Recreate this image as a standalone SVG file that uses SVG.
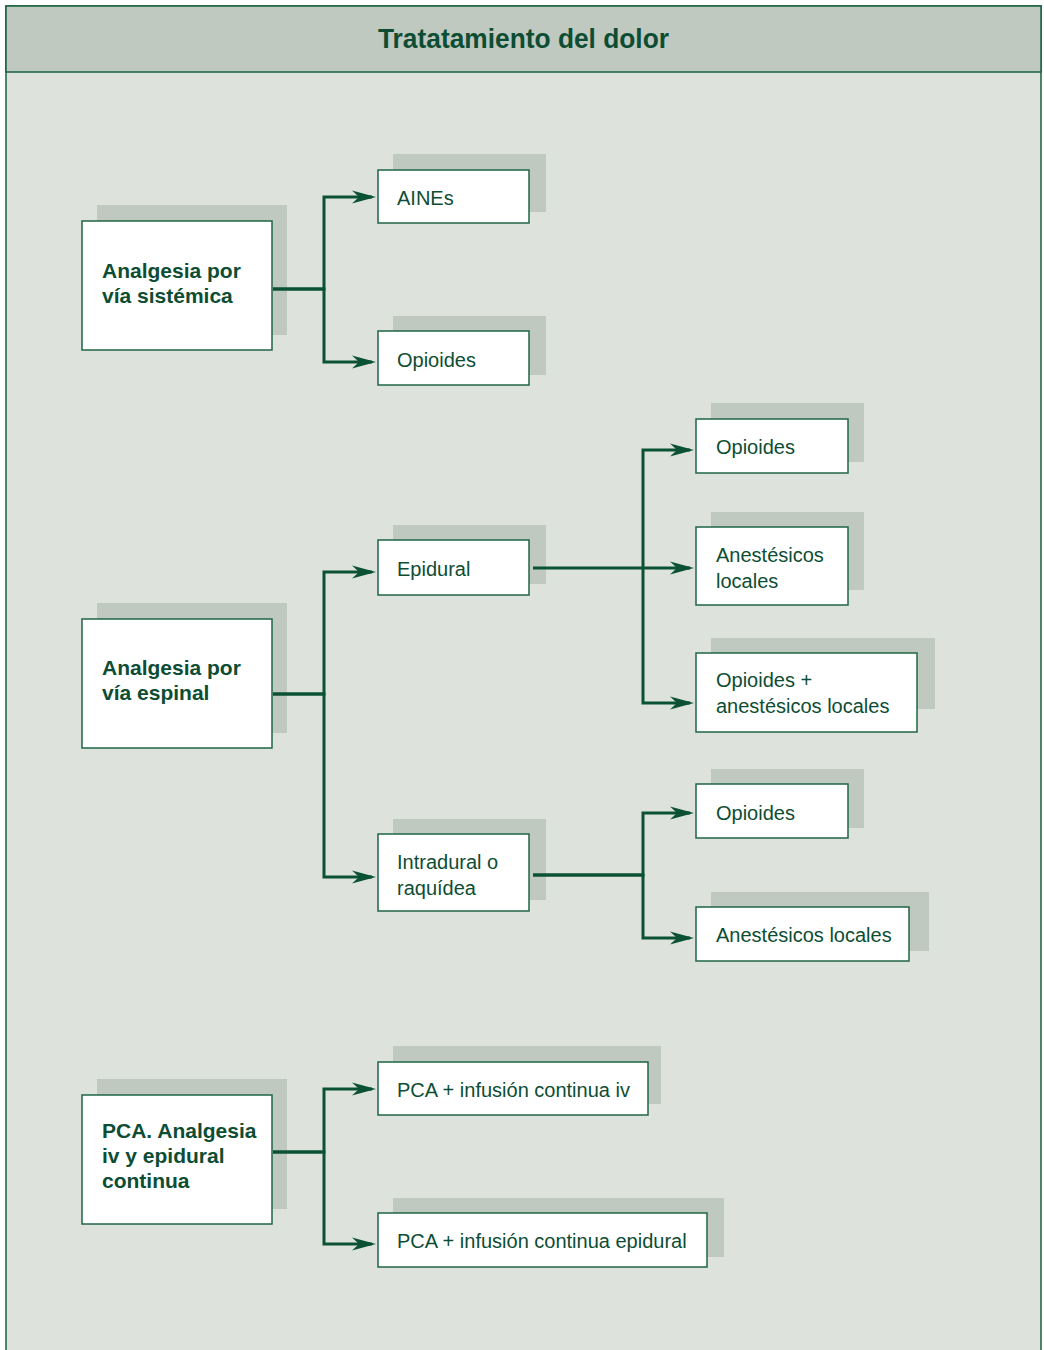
<svg xmlns="http://www.w3.org/2000/svg" width="1044" height="1350" viewBox="0 0 1044 1350">
<style>
.shadow{fill:#bfc9c0}
.box{fill:#ffffff;stroke:#1f6645;stroke-width:1.5}
.t{font-family:"Liberation Sans",Arial,sans-serif;font-size:20px;fill:#0d4d33}
.b{font-family:"Liberation Sans",Arial,sans-serif;font-size:21px;font-weight:bold;fill:#0d4d33}
.c{fill:none;stroke:#0b5235;stroke-width:3;stroke-linejoin:miter}
</style>
<defs>
<marker id="arr" markerUnits="userSpaceOnUse" markerWidth="30" markerHeight="16" viewBox="-26 -8 30 16" refX="-4" refY="0" orient="auto">
<path d="M0,0 L-24,-6.5 L-17,0 L-24,6.5 Z" fill="#0b5235"/>
</marker>
</defs>
<g id="frame">
<rect x="6" y="6" width="1035" height="1360" fill="#dde2dc" stroke="#1a6040" stroke-width="1.5"/>
<rect x="6" y="6" width="1035" height="66" fill="#bfc9c0" stroke="#1a6040" stroke-width="1.5"/>
<text x="523.5" y="48" text-anchor="middle" font-family="Liberation Sans, Arial, sans-serif" font-size="27" font-weight="bold" fill="#0d4d33" textLength="291" lengthAdjust="spacingAndGlyphs">Tratatamiento del dolor</text>
</g>
<g id="n-sistemica">
<rect class="shadow" x="97" y="205" width="190" height="130"/>
<rect class="box" x="82" y="221" width="190" height="129"/>
<text class="b" x="102" y="278">Analgesia por</text>
<text class="b" x="102" y="303">vía sistémica</text>
</g>
<g id="n-aines">
<rect class="shadow" x="393" y="154" width="153" height="58"/>
<rect class="box" x="378" y="170" width="151" height="53"/>
<text class="t" x="397" y="205">AINEs</text>
</g>
<g id="n-opioides1">
<rect class="shadow" x="393" y="316" width="153" height="59"/>
<rect class="box" x="378" y="331" width="151" height="54"/>
<text class="t" x="397" y="367">Opioides</text>
</g>
<g id="n-espinal">
<rect class="shadow" x="97" y="603" width="190" height="130"/>
<rect class="box" x="82" y="619" width="190" height="129"/>
<text class="b" x="102" y="675">Analgesia por</text>
<text class="b" x="102" y="700">vía espinal</text>
</g>
<g id="n-epidural">
<rect class="shadow" x="393" y="525" width="153" height="59"/>
<rect class="box" x="378" y="540" width="151" height="55"/>
<text class="t" x="397" y="576">Epidural</text>
</g>
<g id="n-intradural">
<rect class="shadow" x="393" y="819" width="153" height="81"/>
<rect class="box" x="378" y="834" width="151" height="77"/>
<text class="t" x="397" y="869">Intradural o</text>
<text class="t" x="397" y="895">raquídea</text>
</g>
<g id="n-opioides2">
<rect class="shadow" x="711" y="403" width="153" height="59"/>
<rect class="box" x="696" y="419" width="152" height="54"/>
<text class="t" x="716" y="454">Opioides</text>
</g>
<g id="n-anest2">
<rect class="shadow" x="711" y="512" width="153" height="78"/>
<rect class="box" x="696" y="527" width="152" height="78"/>
<text class="t" x="716" y="562">Anestésicos</text>
<text class="t" x="716" y="588">locales</text>
</g>
<g id="n-opi-anest">
<rect class="shadow" x="711" y="638" width="224" height="71"/>
<rect class="box" x="696" y="653" width="221" height="79"/>
<text class="t" x="716" y="687">Opioides +</text>
<text class="t" x="716" y="713">anestésicos locales</text>
</g>
<g id="n-opioides3">
<rect class="shadow" x="711" y="769" width="153" height="59"/>
<rect class="box" x="696" y="784" width="152" height="54"/>
<text class="t" x="716" y="820">Opioides</text>
</g>
<g id="n-anest1">
<rect class="shadow" x="711" y="892" width="218" height="59"/>
<rect class="box" x="696" y="907" width="213" height="54"/>
<text class="t" x="716" y="942">Anestésicos locales</text>
</g>
<g id="n-pca">
<rect class="shadow" x="97" y="1079" width="190" height="130"/>
<rect class="box" x="82" y="1095" width="190" height="129"/>
<text class="b" x="102" y="1138">PCA. Analgesia</text>
<text class="b" x="102" y="1163">iv y epidural</text>
<text class="b" x="102" y="1188">continua</text>
</g>
<g id="n-pca-iv">
<rect class="shadow" x="393" y="1046" width="268" height="58"/>
<rect class="box" x="378" y="1062" width="270" height="53"/>
<text class="t" x="397" y="1097">PCA + infusión continua iv</text>
</g>
<g id="n-pca-epi">
<rect class="shadow" x="393" y="1198" width="331" height="59"/>
<rect class="box" x="378" y="1213" width="329" height="54"/>
<text class="t" x="397" y="1248">PCA + infusión continua epidural</text>
</g>
<g id="connectors">
<path class="c" d="M273,289 H324 V197 H372" marker-end="url(#arr)"/>
<path class="c" d="M273,289 H324 V362 H372" marker-end="url(#arr)"/>
<path class="c" d="M273,694 H324 V572 H372" marker-end="url(#arr)"/>
<path class="c" d="M273,694 H324 V877 H372" marker-end="url(#arr)"/>
<path class="c" d="M533,568 H690" marker-end="url(#arr)"/>
<path class="c" d="M643,568 V450 H690" marker-end="url(#arr)"/>
<path class="c" d="M643,568 V703 H690" marker-end="url(#arr)"/>
<path class="c" d="M533,875 H643 V813 H690" marker-end="url(#arr)"/>
<path class="c" d="M533,875 H643 V938 H690" marker-end="url(#arr)"/>
<path class="c" d="M273,1152 H324 V1089 H372" marker-end="url(#arr)"/>
<path class="c" d="M273,1152 H324 V1244 H372" marker-end="url(#arr)"/>
</g>
</svg>
